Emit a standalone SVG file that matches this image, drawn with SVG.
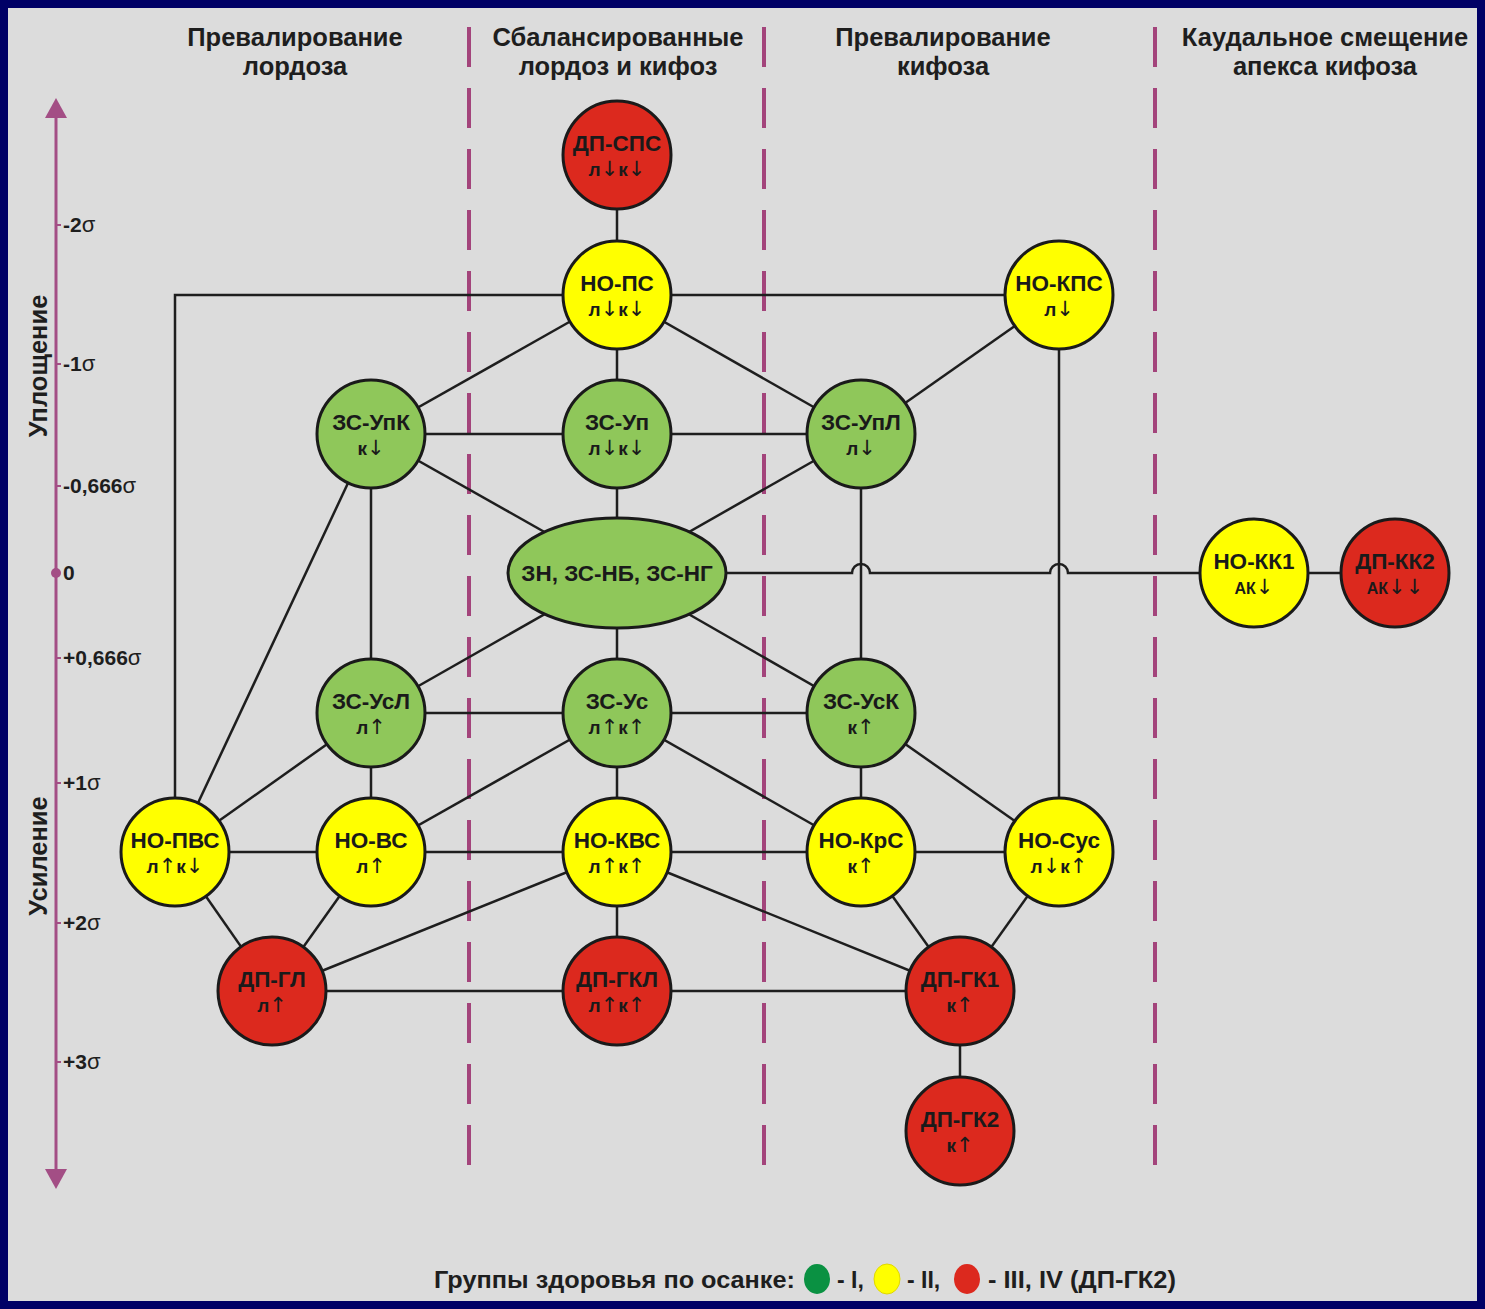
<svg xmlns="http://www.w3.org/2000/svg" width="1485" height="1309" viewBox="0 0 1485 1309">
<style>
.hd{font-family:"Liberation Sans",Arial,sans-serif;font-weight:bold;font-size:25.5px;fill:#1e1e1e;text-anchor:middle}
.ax{font-family:"Liberation Sans",Arial,sans-serif;font-weight:bold;font-size:21px;fill:#1e1e1e}
.sg{font-weight:normal;font-size:22px}
.vl{font-family:"Liberation Sans",Arial,sans-serif;font-weight:bold;font-size:25.5px;fill:#1e1e1e;text-anchor:middle}
.n circle,.n ellipse{stroke:#1a1a1a;stroke-width:3}
.g{fill:#8fc75a}.y{fill:#ffff00}.r{fill:#dc291e}
.t1{font-family:"Liberation Sans",Arial,sans-serif;font-weight:bold;font-size:22.5px;fill:#1a1a1a;text-anchor:middle}
.t2{font-family:"Liberation Sans",Arial,sans-serif;font-weight:bold;font-size:19px;fill:#1a1a1a;text-anchor:middle}
.t3{font-family:"Liberation Sans",Arial,sans-serif;font-weight:bold;font-size:16px;fill:#1a1a1a;text-anchor:middle}
.a{font-weight:normal;font-family:"DejaVu Sans",sans-serif;font-size:21px}
.e{stroke:#1e1e1e;stroke-width:2.5;fill:none}
.dash{stroke:#a3447b;stroke-width:4;stroke-dasharray:40 21}
.lg{font-family:"Liberation Sans",Arial,sans-serif;font-weight:bold;font-size:23px;fill:#1e1e1e}
</style>
<rect x="0" y="0" width="1485" height="1309" fill="#000066"/>
<rect x="8" y="8" width="1469" height="1293" fill="#dcdcdc"/>

<g id="headers">
<text class="hd" x="295" y="46">Превалирование</text>
<text class="hd" x="295" y="75">лордоза</text>
<text class="hd" x="618" y="46">Сбалансированные</text>
<text class="hd" x="618" y="75">лордоз и кифоз</text>
<text class="hd" x="943" y="46">Превалирование</text>
<text class="hd" x="943" y="75">кифоза</text>
<text class="hd" x="1325" y="46">Каудальное смещение</text>
<text class="hd" x="1325" y="75">апекса кифоза</text>
</g>

<g id="dividers">
<line class="dash" x1="469" y1="27" x2="469" y2="1165"/>
<line class="dash" x1="764" y1="27" x2="764" y2="1165"/>
<line class="dash" x1="1155" y1="27" x2="1155" y2="1165"/>
</g>

<g id="axis">
<line x1="56" y1="112" x2="56" y2="1175" stroke="#a34e85" stroke-width="3"/>
<polygon points="56,98 45,118 67,118" fill="#a34e85"/>
<polygon points="56,1189 45,1169 67,1169" fill="#a34e85"/>
<circle cx="56" cy="573" r="5" fill="#a34e85"/>
<g stroke="#a34e85" stroke-width="2">
<line x1="56" y1="225" x2="61" y2="225"/>
<line x1="56" y1="364" x2="61" y2="364"/>
<line x1="56" y1="486" x2="61" y2="486"/>
<line x1="56" y1="658" x2="61" y2="658"/>
<line x1="56" y1="783" x2="61" y2="783"/>
<line x1="56" y1="923" x2="61" y2="923"/>
<line x1="56" y1="1062" x2="61" y2="1062"/>
</g>
<text class="ax" x="63" y="232">-2<tspan class="sg">σ</tspan></text>
<text class="ax" x="63" y="371">-1<tspan class="sg">σ</tspan></text>
<text class="ax" x="63" y="493">-0,666<tspan class="sg">σ</tspan></text>
<text class="ax" x="63" y="580">0</text>
<text class="ax" x="63" y="665">+0,666<tspan class="sg">σ</tspan></text>
<text class="ax" x="63" y="790">+1<tspan class="sg">σ</tspan></text>
<text class="ax" x="63" y="930">+2<tspan class="sg">σ</tspan></text>
<text class="ax" x="63" y="1069">+3<tspan class="sg">σ</tspan></text>
<text class="vl" transform="translate(47,366) rotate(-90)">Уплощение</text>
<text class="vl" transform="translate(47,856) rotate(-90)">Усиление</text>
</g>

<g id="connectors">
<line class="e" x1="617" y1="155" x2="617" y2="295"/>
<line class="e" x1="617" y1="295" x2="1059" y2="295"/>
<polyline class="e" points="617,295 175,295 175,852"/>
<line class="e" x1="617" y1="295" x2="371" y2="434"/>
<line class="e" x1="617" y1="295" x2="617" y2="434"/>
<line class="e" x1="617" y1="295" x2="861" y2="434"/>
<line class="e" x1="1059" y1="295" x2="861" y2="434"/>
<line class="e" x1="1059" y1="295" x2="1059" y2="852"/>
<line class="e" x1="371" y1="434" x2="861" y2="434"/>
<line class="e" x1="371" y1="434" x2="617" y2="573"/>
<line class="e" x1="617" y1="434" x2="617" y2="573"/>
<line class="e" x1="861" y1="434" x2="617" y2="573"/>
<line class="e" x1="371" y1="434" x2="371" y2="713"/>
<line class="e" x1="371" y1="434" x2="175" y2="852"/>
<line class="e" x1="861" y1="434" x2="861" y2="713"/>
<path class="e" d="M617,573 H852 A9,9 0 0 1 870,573 H1050 A9,9 0 0 1 1068,573 H1395"/>
<line class="e" x1="617" y1="573" x2="371" y2="713"/>
<line class="e" x1="617" y1="573" x2="617" y2="713"/>
<line class="e" x1="617" y1="573" x2="861" y2="713"/>
<line class="e" x1="371" y1="713" x2="861" y2="713"/>
<line class="e" x1="371" y1="713" x2="175" y2="852"/>
<line class="e" x1="371" y1="713" x2="371" y2="852"/>
<line class="e" x1="617" y1="713" x2="371" y2="852"/>
<line class="e" x1="617" y1="713" x2="617" y2="852"/>
<line class="e" x1="617" y1="713" x2="861" y2="852"/>
<line class="e" x1="861" y1="713" x2="861" y2="852"/>
<line class="e" x1="861" y1="713" x2="1059" y2="852"/>
<line class="e" x1="175" y1="852" x2="1059" y2="852"/>
<line class="e" x1="175" y1="852" x2="272" y2="991"/>
<line class="e" x1="371" y1="852" x2="272" y2="991"/>
<line class="e" x1="617" y1="852" x2="272" y2="991"/>
<line class="e" x1="617" y1="852" x2="617" y2="991"/>
<line class="e" x1="617" y1="852" x2="960" y2="991"/>
<line class="e" x1="861" y1="852" x2="960" y2="991"/>
<line class="e" x1="1059" y1="852" x2="960" y2="991"/>
<line class="e" x1="272" y1="991" x2="960" y2="991"/>
<line class="e" x1="960" y1="991" x2="960" y2="1131"/>
</g>

<g id="n-dp-sps" class="n"><circle class="r" cx="617" cy="155" r="54"/><text class="t1" x="617" y="151">ДП-СПС</text><text class="t2" x="617" y="176">л<tspan class="a">↓</tspan>к<tspan class="a">↓</tspan></text></g>
<g id="n-no-ps" class="n"><circle class="y" cx="617" cy="295" r="54"/><text class="t1" x="617" y="291">НО-ПС</text><text class="t2" x="617" y="316">л<tspan class="a">↓</tspan>к<tspan class="a">↓</tspan></text></g>
<g id="n-no-kps" class="n"><circle class="y" cx="1059" cy="295" r="54"/><text class="t1" x="1059" y="291">НО-КПС</text><text class="t2" x="1059" y="316">л<tspan class="a">↓</tspan></text></g>
<g id="n-zs-upk" class="n"><circle class="g" cx="371" cy="434" r="54"/><text class="t1" x="371" y="430">ЗС-УпК</text><text class="t2" x="371" y="455">к<tspan class="a">↓</tspan></text></g>
<g id="n-zs-up" class="n"><circle class="g" cx="617" cy="434" r="54"/><text class="t1" x="617" y="430">ЗС-Уп</text><text class="t2" x="617" y="455">л<tspan class="a">↓</tspan>к<tspan class="a">↓</tspan></text></g>
<g id="n-zs-upl" class="n"><circle class="g" cx="861" cy="434" r="54"/><text class="t1" x="861" y="430">ЗС-УпЛ</text><text class="t2" x="861" y="455">л<tspan class="a">↓</tspan></text></g>
<g id="n-zn" class="n"><ellipse class="g" cx="617" cy="573" rx="109" ry="55"/><text class="t1" x="617" y="581">ЗН, ЗС-НБ, ЗС-НГ</text></g>
<g id="n-no-kk1" class="n"><circle class="y" cx="1254" cy="573" r="54"/><text class="t1" x="1254" y="569">НО-КК1</text><text class="t3" x="1254" y="594">АК<tspan class="a">↓</tspan></text></g>
<g id="n-dp-kk2" class="n"><circle class="r" cx="1395" cy="573" r="54"/><text class="t1" x="1395" y="569">ДП-КК2</text><text class="t3" x="1395" y="594">АК<tspan class="a">↓↓</tspan></text></g>
<g id="n-zs-usl" class="n"><circle class="g" cx="371" cy="713" r="54"/><text class="t1" x="371" y="709">ЗС-УсЛ</text><text class="t2" x="371" y="734">л<tspan class="a">↑</tspan></text></g>
<g id="n-zs-us" class="n"><circle class="g" cx="617" cy="713" r="54"/><text class="t1" x="617" y="709">ЗС-Ус</text><text class="t2" x="617" y="734">л<tspan class="a">↑</tspan>к<tspan class="a">↑</tspan></text></g>
<g id="n-zs-usk" class="n"><circle class="g" cx="861" cy="713" r="54"/><text class="t1" x="861" y="709">ЗС-УсК</text><text class="t2" x="861" y="734">к<tspan class="a">↑</tspan></text></g>
<g id="n-no-pvs" class="n"><circle class="y" cx="175" cy="852" r="54"/><text class="t1" x="175" y="848">НО-ПВС</text><text class="t2" x="175" y="873">л<tspan class="a">↑</tspan>к<tspan class="a">↓</tspan></text></g>
<g id="n-no-vs" class="n"><circle class="y" cx="371" cy="852" r="54"/><text class="t1" x="371" y="848">НО-ВС</text><text class="t2" x="371" y="873">л<tspan class="a">↑</tspan></text></g>
<g id="n-no-kvs" class="n"><circle class="y" cx="617" cy="852" r="54"/><text class="t1" x="617" y="848">НО-КВС</text><text class="t2" x="617" y="873">л<tspan class="a">↑</tspan>к<tspan class="a">↑</tspan></text></g>
<g id="n-no-krs" class="n"><circle class="y" cx="861" cy="852" r="54"/><text class="t1" x="861" y="848">НО-КрС</text><text class="t2" x="861" y="873">к<tspan class="a">↑</tspan></text></g>
<g id="n-no-sus" class="n"><circle class="y" cx="1059" cy="852" r="54"/><text class="t1" x="1059" y="848">НО-Сус</text><text class="t2" x="1059" y="873">л<tspan class="a">↓</tspan>к<tspan class="a">↑</tspan></text></g>
<g id="n-dp-gl" class="n"><circle class="r" cx="272" cy="991" r="54"/><text class="t1" x="272" y="987">ДП-ГЛ</text><text class="t2" x="272" y="1012">л<tspan class="a">↑</tspan></text></g>
<g id="n-dp-gkl" class="n"><circle class="r" cx="617" cy="991" r="54"/><text class="t1" x="617" y="987">ДП-ГКЛ</text><text class="t2" x="617" y="1012">л<tspan class="a">↑</tspan>к<tspan class="a">↑</tspan></text></g>
<g id="n-dp-gk1" class="n"><circle class="r" cx="960" cy="991" r="54"/><text class="t1" x="960" y="987">ДП-ГК1</text><text class="t2" x="960" y="1012">к<tspan class="a">↑</tspan></text></g>
<g id="n-dp-gk2" class="n"><circle class="r" cx="960" cy="1131" r="54"/><text class="t1" x="960" y="1127">ДП-ГК2</text><text class="t2" x="960" y="1152">к<tspan class="a">↑</tspan></text></g>

<g id="legend">
<text class="lg" x="434" y="1288" textLength="361" lengthAdjust="spacingAndGlyphs">Группы здоровья по осанке:</text>
<ellipse cx="817" cy="1279" rx="13" ry="15" fill="#0a9142"/>
<text class="lg" x="837" y="1288">- I,</text>
<ellipse cx="887" cy="1279" rx="13" ry="15" fill="#ffff00" stroke="#e0d800" stroke-width="1"/>
<text class="lg" x="907" y="1288">- II,</text>
<ellipse cx="967" cy="1279" rx="13" ry="15" fill="#dc291e"/>
<text class="lg" x="988" y="1288" textLength="188" lengthAdjust="spacingAndGlyphs">- III, IV (ДП-ГК2)</text>
</g>
</svg>
